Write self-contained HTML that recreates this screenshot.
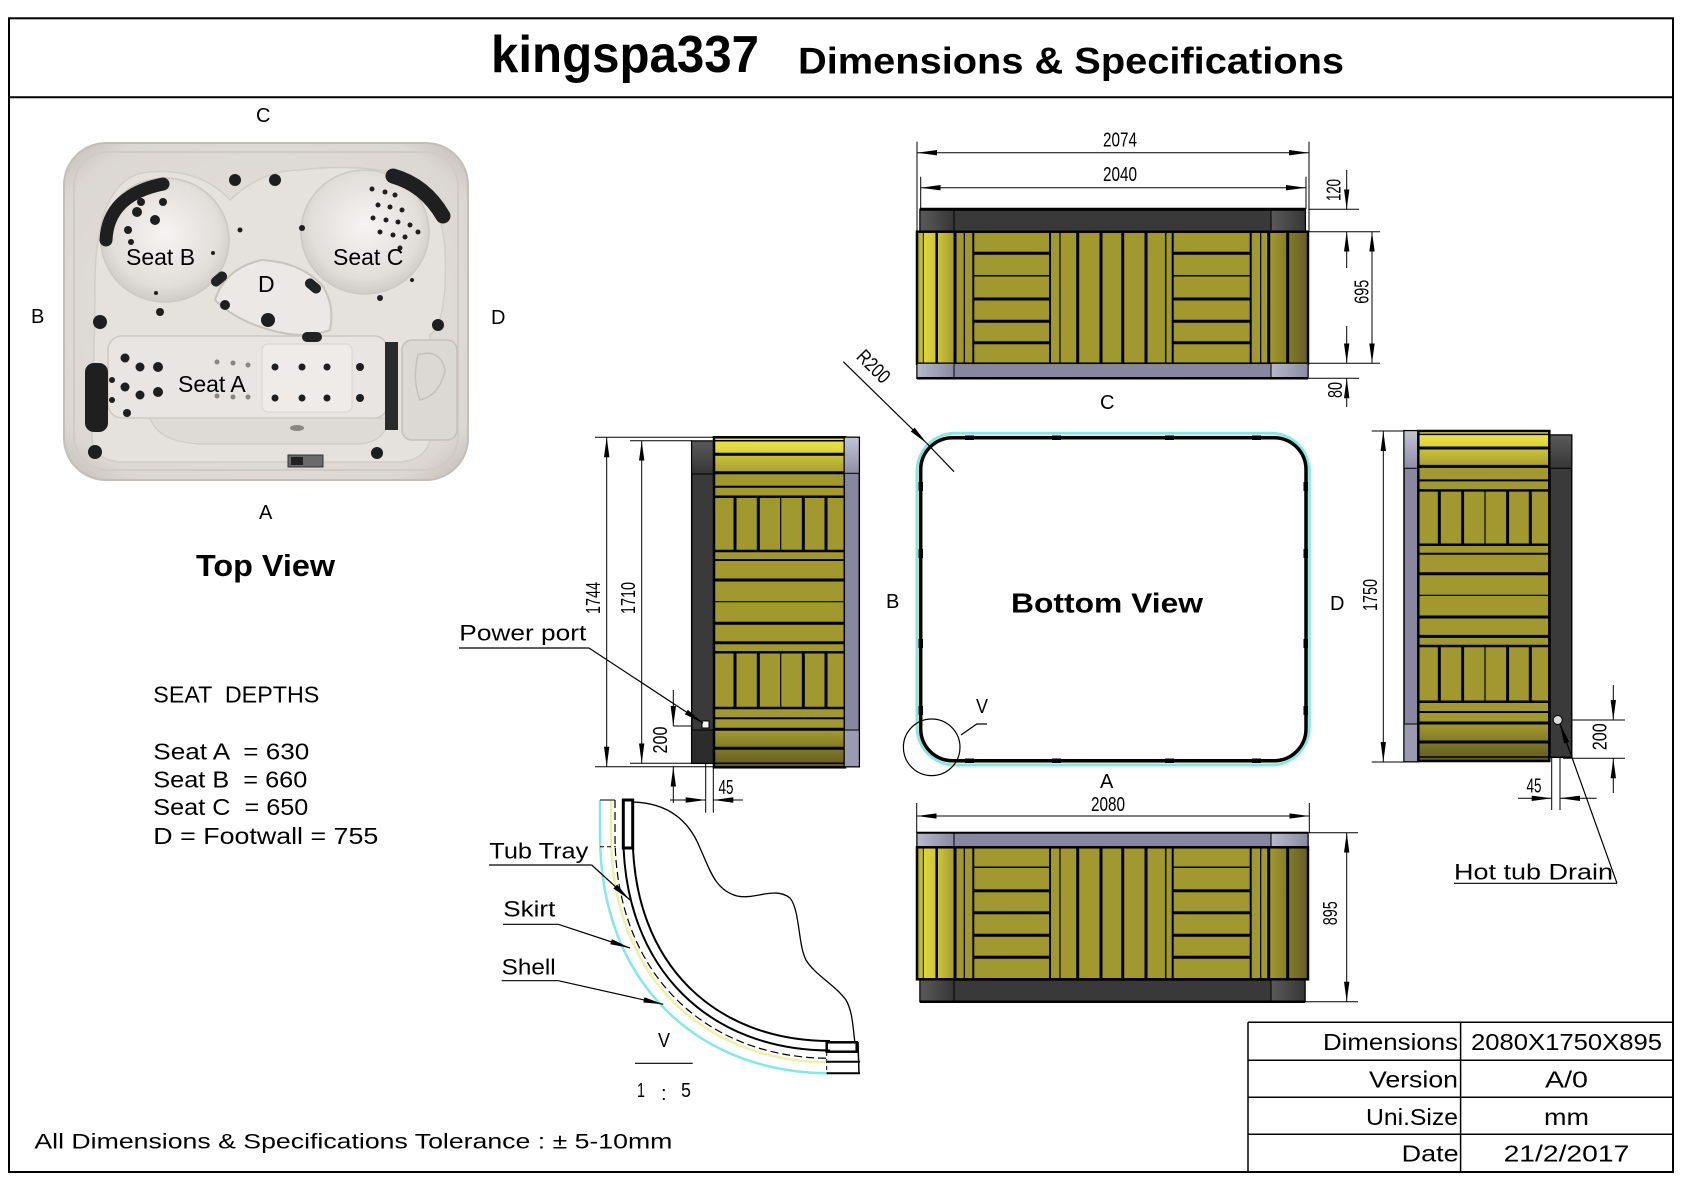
<!DOCTYPE html>
<html><head><meta charset="utf-8"><style>
html,body{margin:0;padding:0;background:#fff;}
svg{display:block;}
text{font-family:"Liberation Sans",Arial,sans-serif;fill:#000;}
.d{font-family:"Liberation Sans Narrow","Liberation Sans",sans-serif;font-size:20px;}
</style></head><body>
<svg width="1684" height="1191" viewBox="0 0 1684 1191" xmlns="http://www.w3.org/2000/svg">
<defs>
<marker id="ar" viewBox="0 0 20 6" refX="20" refY="3" markerWidth="20" markerHeight="6" markerUnits="userSpaceOnUse" orient="auto-start-reverse"><path d="M0,0.3 L20,3 L0,5.7 z" fill="#000"/></marker>
<linearGradient id="gL" x1="0" x2="1" y1="0" y2="0"><stop offset="0" stop-color="#a8a032"/><stop offset="0.2" stop-color="#dcd43e"/><stop offset="0.55" stop-color="#ccc43a"/><stop offset="1" stop-color="#a39b30"/></linearGradient>
<linearGradient id="gR" x1="0" x2="1" y1="0" y2="0"><stop offset="0" stop-color="#a39b30"/><stop offset="1" stop-color="#655e26"/></linearGradient>
<linearGradient id="gT" x1="0" y1="0" x2="0" y2="1"><stop offset="0" stop-color="#f0e844"/><stop offset="1" stop-color="#d8d03e"/></linearGradient>
<linearGradient id="gT2" x1="0" y1="0" x2="0" y2="1"><stop offset="0" stop-color="#ccc43a"/><stop offset="1" stop-color="#a8a031"/></linearGradient>
<linearGradient id="gB" x1="0" y1="0" x2="0" y2="1"><stop offset="0" stop-color="#a39b30"/><stop offset="1" stop-color="#5e5824"/></linearGradient>
<linearGradient id="gDk" x1="0" y1="0" x2="1" y2="0"><stop offset="0" stop-color="#5a5a5a"/><stop offset="1" stop-color="#363636"/></linearGradient>
<linearGradient id="gDkV" x1="0" y1="0" x2="0" y2="1"><stop offset="0" stop-color="#5a5a5a"/><stop offset="1" stop-color="#363636"/></linearGradient>
<linearGradient id="gGr" x1="0" y1="0" x2="1" y2="0"><stop offset="0" stop-color="#b8b8cc"/><stop offset="1" stop-color="#8a8aa2"/></linearGradient>
<linearGradient id="gGrV" x1="0" y1="0" x2="0" y2="1"><stop offset="0" stop-color="#c4c4d6"/><stop offset="1" stop-color="#8e8ea6"/></linearGradient>
<radialGradient id="bowl" cx="0.5" cy="0.45" r="0.6"><stop offset="0" stop-color="#f6f4f2"/><stop offset="0.7" stop-color="#e2deda"/><stop offset="1" stop-color="#c9c4bf"/></radialGradient>
<radialGradient id="shell" cx="0.5" cy="0.5" r="0.7"><stop offset="0" stop-color="#e6e2de"/><stop offset="0.85" stop-color="#dcd7d3"/><stop offset="1" stop-color="#c2bcb7"/></radialGradient>

<g id="bh">
<rect width="391" height="132" fill="#a1992f"/>
<rect width="38" height="132" fill="url(#gL)"/>
<rect x="351" width="40" height="132" fill="url(#gR)"/>
<g stroke="#000">
<line x1="6.3" y1="0" x2="6.3" y2="132" stroke-width="1"/>
<line x1="19.7" y1="0" x2="19.7" y2="132" stroke-width="2.5"/>
<line x1="38" y1="0" x2="38" y2="132" stroke-width="3"/>
<line x1="47.3" y1="0" x2="47.3" y2="132" stroke-width="1.2"/>
<line x1="56.3" y1="0" x2="56.3" y2="132" stroke-width="2"/>
<line x1="133" y1="0" x2="133" y2="132" stroke-width="2"/>
<line x1="143" y1="0" x2="143" y2="132" stroke-width="1.2"/>
<line x1="160.7" y1="0" x2="160.7" y2="132" stroke-width="3"/>
<line x1="184" y1="0" x2="184" y2="132" stroke-width="3"/>
<line x1="205.7" y1="0" x2="205.7" y2="132" stroke-width="3"/>
<line x1="229" y1="0" x2="229" y2="132" stroke-width="3"/>
<line x1="248.7" y1="0" x2="248.7" y2="132" stroke-width="1.5"/>
<line x1="255.7" y1="0" x2="255.7" y2="132" stroke-width="2"/>
<line x1="333.7" y1="0" x2="333.7" y2="132" stroke-width="2"/>
<line x1="343.7" y1="0" x2="343.7" y2="132" stroke-width="1.2"/>
<line x1="351.7" y1="0" x2="351.7" y2="132" stroke-width="3"/>
<line x1="370.7" y1="0" x2="370.7" y2="132" stroke-width="3"/>
</g>
<rect width="391" height="132" fill="none" stroke="#000" stroke-width="2.5"/>
</g>

<g id="bv">
<rect width="131" height="330" fill="#a1992f"/>
<rect width="131" height="17" fill="url(#gT)"/>
<rect y="17" width="131" height="18" fill="url(#gT2)"/>
<rect y="292" width="131" height="38" fill="url(#gB)"/>
<g stroke="#000">
<line x1="0" y1="3.4" x2="131" y2="3.4" stroke-width="1.5"/>
<line x1="0" y1="17" x2="131" y2="17" stroke-width="3"/>
<line x1="0" y1="35.4" x2="131" y2="35.4" stroke-width="3"/>
<line x1="0" y1="49.4" x2="131" y2="49.4" stroke-width="2"/>
<line x1="0" y1="59.4" x2="131" y2="59.4" stroke-width="2.5"/>
<line x1="0" y1="113.7" x2="131" y2="113.7" stroke-width="2.5"/>
<line x1="0" y1="122.7" x2="131" y2="122.7" stroke-width="2"/>
<line x1="0" y1="142.7" x2="131" y2="142.7" stroke-width="3"/>
<line x1="0" y1="164.4" x2="131" y2="164.4" stroke-width="1.2"/>
<line x1="0" y1="186" x2="131" y2="186" stroke-width="3"/>
<line x1="0" y1="205.4" x2="131" y2="205.4" stroke-width="3"/>
<line x1="0" y1="215" x2="131" y2="215" stroke-width="2.5"/>
<line x1="0" y1="270.7" x2="131" y2="270.7" stroke-width="2.5"/>
<line x1="0" y1="281" x2="131" y2="281" stroke-width="2"/>
<line x1="0" y1="292" x2="131" y2="292" stroke-width="3"/>
<line x1="0" y1="311" x2="131" y2="311" stroke-width="3"/>
<line x1="0" y1="326" x2="131" y2="326" stroke-width="1.5"/>
<g stroke-width="3">
<line x1="21" y1="59.4" x2="21" y2="113.7"/><line x1="44.3" y1="59.4" x2="44.3" y2="113.7"/><line x1="66.7" y1="59.4" x2="66.7" y2="113.7" stroke-width="1.2"/><line x1="89.3" y1="59.4" x2="89.3" y2="113.7"/><line x1="112" y1="59.4" x2="112" y2="113.7"/>
<line x1="21" y1="215" x2="21" y2="270.7"/><line x1="44.3" y1="215" x2="44.3" y2="270.7"/><line x1="66.7" y1="215" x2="66.7" y2="270.7" stroke-width="1.2"/><line x1="89.3" y1="215" x2="89.3" y2="270.7"/><line x1="112" y1="215" x2="112" y2="270.7"/>
</g>
</g>
<rect width="131" height="330" fill="none" stroke="#000" stroke-width="2.5"/>
</g>
</defs>

<!-- frame -->
<rect x="9" y="18.3" width="1664" height="1153.7" fill="none" stroke="#000" stroke-width="2"/>
<line x1="9" y1="97.3" x2="1673" y2="97.3" stroke="#000" stroke-width="2"/>

<!-- title -->
<text x="491" y="72" font-size="52" font-weight="bold" textLength="268" lengthAdjust="spacingAndGlyphs">kingspa337</text>
<text x="798" y="73.3" font-size="37" font-weight="bold" textLength="546" lengthAdjust="spacingAndGlyphs">Dimensions &amp; Specifications</text>

<!-- ============ TOP VIEW PHOTO ============ -->
<text x="256" y="122" font-size="20">C</text>
<text x="31" y="323" font-size="20">B</text>
<text x="491" y="324" font-size="20">D</text>
<g>
<rect x="64" y="143" width="404" height="337" rx="42" fill="url(#shell)" stroke="#c4beb9" stroke-width="2"/>
<rect x="74" y="152" width="384" height="318" rx="34" fill="none" stroke="#d0cbc6" stroke-width="2"/>
<path d="M95,300 Q92,175 150,172 Q200,168 230,200 Q262,170 300,170 Q340,165 380,170 Q440,175 445,250 Q448,320 430,335 L430,440 Q425,460 400,462 L120,462 Q95,460 92,440 Z" fill="#e5e1dd" stroke="#d2cdc8" stroke-width="1.5"/>
<ellipse cx="165" cy="240" rx="64" ry="62" fill="url(#bowl)" stroke="#cdc8c3" stroke-width="1.5"/>
<ellipse cx="365" cy="232" rx="64" ry="62" fill="url(#bowl)" stroke="#cdc8c3" stroke-width="1.5"/>
<path d="M215,300 Q225,268 262,260 Q300,262 322,285 Q335,305 330,330 Q305,340 270,330 Q235,320 215,300 Z" fill="#ebe8e5" stroke="#c9c3be" stroke-width="2"/>
<rect x="108" y="336" width="280" height="82" rx="14" fill="#e8e5e2" stroke="#cdc8c3" stroke-width="1.5"/>
<rect x="262" y="344" width="90" height="68" rx="6" fill="#eeebe8" stroke="#d8d3cf" stroke-width="1"/>
<path d="M150,418 Q158,442 200,444 L360,444 Q386,442 388,418 Z" fill="#dedad6" stroke="#cdc8c3" stroke-width="1"/>
<rect x="402" y="340" width="55" height="100" rx="10" fill="#dcd8d4" stroke="#c6c0bb" stroke-width="1.5"/>
<path d="M418,355 Q440,348 445,370 Q440,395 420,400 Q412,380 418,355 Z" fill="none" stroke="#c6c0bb" stroke-width="1.5"/>
<!-- pillows -->
<path d="M106,240 Q108,195 163,184" fill="none" stroke="#1f1f1f" stroke-width="13" stroke-linecap="round"/>
<path d="M393,176 Q425,185 443,216" fill="none" stroke="#1f1f1f" stroke-width="15" stroke-linecap="round"/>
<rect x="85" y="363" width="23" height="69" rx="9" fill="#1f1f1f"/>
<rect x="385" y="342" width="13" height="88" fill="#2b2b2b"/>
<rect x="210" y="274" width="18" height="10" rx="5" fill="#222" transform="rotate(-40 219 279)"/>
<rect x="304" y="281" width="18" height="10" rx="5" fill="#222" transform="rotate(40 313 286)"/>
<rect x="302" y="332" width="20" height="10" rx="5" fill="#222"/>
<!-- jets -->
<g fill="#1e1e1e">
<circle cx="235" cy="180" r="6"/><circle cx="275" cy="180" r="6"/>
<circle cx="137" cy="212" r="5"/><circle cx="155" cy="220" r="5"/><circle cx="128" cy="230" r="4"/><circle cx="141" cy="202" r="4"/><circle cx="163" cy="202" r="4"/><circle cx="131" cy="242" r="3"/>
<circle cx="372" cy="189" r="2.5"/><circle cx="385" cy="192" r="2.5"/><circle cx="395" cy="195" r="2.5"/><circle cx="378" cy="205" r="2.5"/><circle cx="390" cy="207" r="2.5"/><circle cx="402" cy="210" r="2.5"/><circle cx="373" cy="218" r="2.5"/><circle cx="386" cy="220" r="2.5"/><circle cx="398" cy="222" r="2.5"/><circle cx="410" cy="225" r="2.5"/><circle cx="380" cy="232" r="2.5"/><circle cx="393" cy="235" r="2.5"/><circle cx="405" cy="237" r="2.5"/><circle cx="418" cy="232" r="2.5"/><circle cx="400" cy="248" r="2.5"/><circle cx="302" cy="228" r="3"/><circle cx="380" cy="298" r="3"/><circle cx="412" cy="280" r="2"/>
<circle cx="240" cy="230" r="2.5"/><circle cx="213" cy="253" r="2"/><circle cx="160" cy="312" r="4"/><circle cx="156" cy="293" r="2"/>
<circle cx="100" cy="322" r="7"/><circle cx="438" cy="325" r="6"/><circle cx="95" cy="452" r="7"/><circle cx="377" cy="453" r="6"/>
<circle cx="225" cy="305" r="5"/><circle cx="268" cy="320" r="7"/>
<circle cx="125" cy="358" r="4.5"/><circle cx="140" cy="367" r="4.5"/><circle cx="158" cy="367" r="5"/><circle cx="125" cy="387" r="4.5"/><circle cx="140" cy="395" r="4.5"/><circle cx="158" cy="392" r="5"/><circle cx="112" cy="380" r="3"/><circle cx="112" cy="400" r="3"/><circle cx="127" cy="413" r="4"/>
<circle cx="275" cy="367" r="3.5"/><circle cx="302" cy="367" r="3.5"/><circle cx="327" cy="367" r="3.5"/><circle cx="360" cy="367" r="4"/>
<circle cx="275" cy="398" r="3.5"/><circle cx="302" cy="398" r="3.5"/><circle cx="327" cy="398" r="3.5"/><circle cx="360" cy="398" r="4"/>
</g>
<g fill="#8a8580"><circle cx="217" cy="362" r="2.5"/><circle cx="233" cy="363" r="2.5"/><circle cx="248" cy="365" r="2.5"/><circle cx="217" cy="396" r="2.5"/><circle cx="233" cy="397" r="2.5"/><circle cx="248" cy="397" r="2.5"/><ellipse cx="297" cy="428" rx="7" ry="3"/></g>
<rect x="288" y="455" width="35" height="12" fill="#6a6a6a" stroke="#333" stroke-width="1"/>
<rect x="291" y="457" width="12" height="8" fill="#222"/>
</g>
<text x="126" y="265" font-size="23">Seat B</text>
<text x="333" y="265" font-size="23">Seat C</text>
<text x="258" y="292" font-size="23">D</text>
<text x="178" y="392" font-size="23">Seat A</text>
<text x="259" y="519" font-size="20">A</text>
<text x="196" y="576" font-size="31" font-weight="bold" textLength="139" lengthAdjust="spacingAndGlyphs">Top View</text>

<!-- seat depths -->
<text x="153.3" y="702.3" font-size="23" textLength="166" lengthAdjust="spacingAndGlyphs" xml:space="preserve">SEAT  DEPTHS</text>
<text x="153.3" y="759.3" font-size="23" textLength="156" lengthAdjust="spacingAndGlyphs" xml:space="preserve">Seat A  = 630</text>
<text x="153.3" y="787.3" font-size="23" textLength="154" lengthAdjust="spacingAndGlyphs" xml:space="preserve">Seat B  = 660</text>
<text x="153.3" y="815" font-size="23" textLength="155" lengthAdjust="spacingAndGlyphs" xml:space="preserve">Seat C  = 650</text>
<text x="153.3" y="844" font-size="23" textLength="225" lengthAdjust="spacingAndGlyphs">D = Footwall = 755</text>

<!-- ============ ELEVATION C (top) ============ -->
<g stroke="#000" stroke-width="1">
<line x1="917" y1="141.7" x2="917" y2="232"/>
<line x1="1309" y1="141.7" x2="1309" y2="232"/>
<line x1="920.7" y1="176.7" x2="920.7" y2="209"/>
<line x1="1306" y1="176.7" x2="1306" y2="209"/>
<line x1="917" y1="152.7" x2="1309" y2="152.7" marker-start="url(#ar)" marker-end="url(#ar)"/>
<line x1="920.7" y1="187.7" x2="1306" y2="187.7" marker-start="url(#ar)" marker-end="url(#ar)"/>
<line x1="1309" y1="209.3" x2="1359" y2="209.3"/>
<line x1="1309" y1="231.7" x2="1380" y2="231.7"/>
<line x1="1309" y1="363.3" x2="1380" y2="363.3"/>
<line x1="1309" y1="378.3" x2="1359" y2="378.3"/>
<line x1="1346.7" y1="170" x2="1346.7" y2="209.3" marker-end="url(#ar)"/>
<line x1="1346.7" y1="268" x2="1346.7" y2="231.7" marker-end="url(#ar)"/>
<line x1="1372" y1="231.7" x2="1372" y2="363.3" marker-start="url(#ar)" marker-end="url(#ar)"/>
<line x1="1346.7" y1="326" x2="1346.7" y2="363.3" marker-end="url(#ar)"/>
<line x1="1346.7" y1="407" x2="1346.7" y2="378.3" marker-end="url(#ar)"/>
</g>
<text class="d" x="1103" y="146.5" textLength="34" lengthAdjust="spacingAndGlyphs">2074</text>
<text class="d" x="1103" y="181" textLength="34" lengthAdjust="spacingAndGlyphs">2040</text>
<text class="d" transform="translate(1333.3,190) rotate(-90)" x="-11" y="7" textLength="22" lengthAdjust="spacingAndGlyphs">120</text>
<text class="d" transform="translate(1361.7,291.7) rotate(-90)" x="-12" y="7" textLength="24" lengthAdjust="spacingAndGlyphs">695</text>
<text class="d" transform="translate(1335,390) rotate(-90)" x="-8" y="7" textLength="16" lengthAdjust="spacingAndGlyphs">80</text>

<rect x="920" y="209.3" width="385.3" height="22.4" fill="#393939" stroke="#000" stroke-width="1.5"/>
<rect x="920" y="209.3" width="34" height="22.4" fill="url(#gDk)" stroke="#000" stroke-width="1"/>
<rect x="1271" y="209.3" width="34.3" height="22.4" fill="url(#gDk)" stroke="#000" stroke-width="1"/>
<line x1="920" y1="209.3" x2="1305.3" y2="209.3" stroke="#000" stroke-width="3"/>
<use href="#bh" x="917" y="231.7"/>
<g stroke="#000">
<line x1="973.3" y1="253.3" x2="1050" y2="253.3" stroke-width="3"/><line x1="1172.7" y1="253.3" x2="1250.7" y2="253.3" stroke-width="3"/>
<line x1="973.3" y1="275.7" x2="1050" y2="275.7" stroke-width="1.5"/><line x1="1172.7" y1="275.7" x2="1250.7" y2="275.7" stroke-width="1.5"/>
<line x1="973.3" y1="299" x2="1050" y2="299" stroke-width="3"/><line x1="1172.7" y1="299" x2="1250.7" y2="299" stroke-width="3"/>
<line x1="973.3" y1="321.3" x2="1050" y2="321.3" stroke-width="3"/><line x1="1172.7" y1="321.3" x2="1250.7" y2="321.3" stroke-width="3"/>
<line x1="973.3" y1="342.7" x2="1050" y2="342.7" stroke-width="3"/><line x1="1172.7" y1="342.7" x2="1250.7" y2="342.7" stroke-width="3"/>
</g>
<rect x="917" y="363.3" width="391" height="15" fill="#8787a0" stroke="#000" stroke-width="1.5"/>
<rect x="917" y="363.3" width="37" height="15" fill="url(#gGr)" stroke="#000" stroke-width="1"/>
<rect x="1271" y="363.3" width="37" height="15" fill="url(#gGr)" stroke="#000" stroke-width="1"/>
<line x1="917" y1="378.3" x2="1308" y2="378.3" stroke="#000" stroke-width="2.5"/>
<text x="1100" y="409" font-size="20">C</text>

<!-- ============ SIDE B (left) ============ -->
<g stroke="#000" stroke-width="1">
<line x1="595" y1="437.3" x2="714" y2="437.3"/>
<line x1="630" y1="440.7" x2="692" y2="440.7"/>
<line x1="595" y1="766.7" x2="714" y2="766.7"/>
<line x1="630" y1="763.3" x2="692" y2="763.3"/>
<line x1="606.7" y1="437.3" x2="606.7" y2="766.7" marker-start="url(#ar)" marker-end="url(#ar)"/>
<line x1="641.7" y1="440.7" x2="641.7" y2="763.3" marker-start="url(#ar)" marker-end="url(#ar)"/>
<line x1="673.3" y1="726" x2="705" y2="726"/>
<line x1="673.3" y1="690" x2="673.3" y2="726" marker-end="url(#ar)"/>
<line x1="673.3" y1="803" x2="673.3" y2="766.7" marker-end="url(#ar)"/>
<line x1="705.7" y1="726" x2="705.7" y2="812.7"/>
<line x1="713.3" y1="766.7" x2="713.3" y2="812.7"/>
<line x1="670" y1="800" x2="705.7" y2="800" marker-end="url(#ar)"/>
<line x1="743" y1="800" x2="713.3" y2="800" marker-end="url(#ar)"/>
</g>
<text class="d" transform="translate(593,598) rotate(-90)" x="-16" y="7" textLength="32" lengthAdjust="spacingAndGlyphs">1744</text>
<text class="d" transform="translate(628,598) rotate(-90)" x="-16" y="7" textLength="32" lengthAdjust="spacingAndGlyphs">1710</text>
<text class="d" transform="translate(660,740) rotate(-90)" x="-13.5" y="7" textLength="27" lengthAdjust="spacingAndGlyphs">200</text>
<text class="d" x="718.5" y="794" textLength="15" lengthAdjust="spacingAndGlyphs">45</text>

<rect x="691.7" y="441" width="22.3" height="322.3" fill="#3a3a3a" stroke="#000" stroke-width="1.5"/>
<rect x="691.7" y="441" width="22.3" height="33" fill="url(#gDkV)" stroke="#000" stroke-width="1"/>
<rect x="691.7" y="730" width="22.3" height="33.3" fill="#2c2c2c" stroke="#000" stroke-width="1"/>
<use href="#bv" x="714" y="437.3"/>
<rect x="844.3" y="437.3" width="15" height="329.4" fill="#8787a0" stroke="#000" stroke-width="1.5"/>
<rect x="844.3" y="437.3" width="15" height="36" fill="url(#gGrV)" stroke="#000" stroke-width="1"/>
<rect x="844.3" y="730" width="15" height="36.7" fill="#9a9ab0" stroke="#000" stroke-width="1"/>
<rect x="702" y="721" width="7" height="7" fill="#fff" stroke="#000" stroke-width="1"/>
<text x="459.3" y="640.7" font-size="22" textLength="127" lengthAdjust="spacingAndGlyphs">Power port</text>
<line x1="459" y1="648" x2="589" y2="648" stroke="#000" stroke-width="1.2"/>
<line x1="589" y1="648" x2="703" y2="723" stroke="#000" stroke-width="1.2" marker-end="url(#ar)"/>

<!-- ============ BOTTOM VIEW ============ -->
<rect x="917" y="433.3" width="392.3" height="331.7" rx="38" fill="none" stroke="#86e6ea" stroke-width="3"/>
<rect x="919" y="435.5" width="388.5" height="327.5" rx="36" fill="none" stroke="#eef0b4" stroke-width="1.5"/>
<rect x="920.7" y="437.7" width="385.3" height="323" rx="32" fill="#fff" stroke="#000" stroke-width="3.5"/>
<g fill="#000">
<rect x="965" y="435.5" width="9" height="4.5"/><rect x="1052" y="435.5" width="9" height="4.5"/><rect x="1165" y="435.5" width="9" height="4.5"/><rect x="1252" y="435.5" width="9" height="4.5"/>
<rect x="965" y="758.5" width="9" height="4.5"/><rect x="1052" y="758.5" width="9" height="4.5"/><rect x="1165" y="758.5" width="9" height="4.5"/><rect x="1252" y="758.5" width="9" height="4.5"/>
<rect x="918.5" y="482" width="4.5" height="9"/><rect x="918.5" y="549" width="4.5" height="9"/><rect x="918.5" y="639" width="4.5" height="9"/><rect x="918.5" y="706" width="4.5" height="9"/>
<rect x="1303.5" y="482" width="4.5" height="9"/><rect x="1303.5" y="549" width="4.5" height="9"/><rect x="1303.5" y="639" width="4.5" height="9"/><rect x="1303.5" y="706" width="4.5" height="9"/>
</g>
<text x="1011" y="612.7" font-size="28" font-weight="bold" textLength="192" lengthAdjust="spacingAndGlyphs">Bottom View</text>
<text x="886" y="608" font-size="20">B</text>
<text x="1330" y="610" font-size="20">D</text>
<line x1="843.3" y1="361.7" x2="927" y2="443.5" stroke="#000" stroke-width="1.2" marker-end="url(#ar)"/>
<line x1="927" y1="443.5" x2="954" y2="471.7" stroke="#000" stroke-width="1.2"/>
<text class="d" transform="translate(873,367) rotate(45)" x="-19" y="6" textLength="38" lengthAdjust="spacingAndGlyphs">R200</text>
<circle cx="931.7" cy="747.3" r="28.3" fill="none" stroke="#000" stroke-width="1.2"/>
<polyline points="961,735 976.7,724 987,724" fill="none" stroke="#000" stroke-width="1.2"/>
<text class="d" x="976" y="713" textLength="12" lengthAdjust="spacingAndGlyphs">V</text>
<text x="1100" y="788" font-size="20">A</text>

<!-- ============ SIDE D (right) ============ -->
<g stroke="#000" stroke-width="1">
<line x1="1371.7" y1="431" x2="1404" y2="431"/>
<line x1="1371.7" y1="762" x2="1404" y2="762"/>
<line x1="1383.3" y1="431" x2="1383.3" y2="762" marker-start="url(#ar)" marker-end="url(#ar)"/>
<line x1="1562" y1="720" x2="1625" y2="720"/>
<line x1="1563" y1="758.3" x2="1625" y2="758.3"/>
<line x1="1613.3" y1="685" x2="1613.3" y2="720" marker-end="url(#ar)"/>
<line x1="1613.3" y1="793" x2="1613.3" y2="758.3" marker-end="url(#ar)"/>
<line x1="1551.7" y1="758" x2="1551.7" y2="810"/>
<line x1="1560" y1="724" x2="1560" y2="810"/>
<line x1="1518" y1="798.3" x2="1551.7" y2="798.3" marker-end="url(#ar)"/>
<line x1="1596.7" y1="798.3" x2="1560" y2="798.3" marker-end="url(#ar)"/>
</g>
<text class="d" transform="translate(1370,595) rotate(-90)" x="-16" y="7" textLength="32" lengthAdjust="spacingAndGlyphs">1750</text>
<text class="d" transform="translate(1599.3,736.7) rotate(-90)" x="-13.5" y="7" textLength="27" lengthAdjust="spacingAndGlyphs">200</text>
<text class="d" x="1526.5" y="792.5" textLength="15" lengthAdjust="spacingAndGlyphs">45</text>

<rect x="1404" y="430.7" width="14.3" height="331" fill="#8787a0" stroke="#000" stroke-width="1.5"/>
<rect x="1404" y="430.7" width="14.3" height="37.6" fill="url(#gGrV)" stroke="#000" stroke-width="1"/>
<rect x="1404" y="724" width="14.3" height="37.7" fill="#9a9ab0" stroke="#000" stroke-width="1"/>
<use href="#bv" x="1418.3" y="431"/>
<rect x="1550" y="435" width="21.7" height="322.3" fill="#3a3a3a" stroke="#000" stroke-width="1.5"/>
<rect x="1550" y="435" width="21.7" height="33.3" fill="url(#gDkV)" stroke="#000" stroke-width="1"/>
<circle cx="1557.7" cy="720" r="4.5" fill="#ddd" stroke="#000" stroke-width="1"/>
<text x="1454" y="879.3" font-size="22" textLength="159" lengthAdjust="spacingAndGlyphs">Hot tub Drain</text>
<line x1="1454" y1="883.3" x2="1617" y2="883.3" stroke="#000" stroke-width="1.2"/>
<line x1="1617" y1="883.3" x2="1560" y2="724" stroke="#000" stroke-width="1.2" marker-end="url(#ar)"/>

<!-- ============ ELEVATION A (bottom) ============ -->
<g stroke="#000" stroke-width="1">
<line x1="916.7" y1="803" x2="916.7" y2="833"/>
<line x1="1309.3" y1="803" x2="1309.3" y2="833"/>
<line x1="916.7" y1="816" x2="1309.3" y2="816" marker-start="url(#ar)" marker-end="url(#ar)"/>
<line x1="1309" y1="832.7" x2="1358" y2="832.7"/>
<line x1="1305" y1="1001.7" x2="1358" y2="1001.7"/>
<line x1="1346.7" y1="832.7" x2="1346.7" y2="1001.7" marker-start="url(#ar)" marker-end="url(#ar)"/>
</g>
<text class="d" x="1091" y="811" textLength="34" lengthAdjust="spacingAndGlyphs">2080</text>
<text class="d" transform="translate(1330,913.3) rotate(-90)" x="-12" y="7" textLength="24" lengthAdjust="spacingAndGlyphs">895</text>

<rect x="917" y="832.7" width="391" height="14.6" fill="#8787a0" stroke="#000" stroke-width="1.5"/>
<rect x="917" y="832.7" width="37" height="14.6" fill="url(#gGr)" stroke="#000" stroke-width="1"/>
<rect x="1271" y="832.7" width="37" height="14.6" fill="url(#gGr)" stroke="#000" stroke-width="1"/>
<line x1="917" y1="832.7" x2="1308" y2="832.7" stroke="#000" stroke-width="2"/>
<use href="#bh" x="917" y="847.3"/>
<g stroke="#000">
<line x1="973.3" y1="867.3" x2="1050" y2="867.3" stroke-width="1.5"/><line x1="1172.7" y1="867.3" x2="1250.7" y2="867.3" stroke-width="1.5"/>
<line x1="973.3" y1="890.7" x2="1050" y2="890.7" stroke-width="3"/><line x1="1172.7" y1="890.7" x2="1250.7" y2="890.7" stroke-width="3"/>
<line x1="973.3" y1="912.7" x2="1050" y2="912.7" stroke-width="3"/><line x1="1172.7" y1="912.7" x2="1250.7" y2="912.7" stroke-width="3"/>
<line x1="973.3" y1="935.3" x2="1050" y2="935.3" stroke-width="3"/><line x1="1172.7" y1="935.3" x2="1250.7" y2="935.3" stroke-width="3"/>
<line x1="973.3" y1="957.3" x2="1050" y2="957.3" stroke-width="3"/><line x1="1172.7" y1="957.3" x2="1250.7" y2="957.3" stroke-width="3"/>
</g>
<rect x="920" y="980" width="385" height="21.7" fill="#393939" stroke="#000" stroke-width="1.5"/>
<rect x="920" y="980" width="34" height="21.7" fill="url(#gDk)" stroke="#000" stroke-width="1"/>
<rect x="1271" y="980" width="34" height="21.7" fill="url(#gDk)" stroke="#000" stroke-width="1"/>
<line x1="920" y1="1001.7" x2="1305" y2="1001.7" stroke="#000" stroke-width="2.5"/>

<!-- ============ DETAIL V ============ -->
<path d="M600,800 L600,835 C600,985 700,1073.3 830,1073.3" fill="none" stroke="#86e6ea" stroke-width="2.5"/>
<path d="M611,800 L611,835 C611,978 705.5,1062.3 830,1062.3" fill="none" stroke="#eef0a8" stroke-width="2.5"/>
<path d="M615,800 L615,835 C615,976 707.5,1058.3 830,1058.3" fill="none" stroke="#000" stroke-width="1.2" stroke-dasharray="8,4"/>
<path d="M623.3,800 L623.3,835 C623.3,971 711.6,1050.5 830,1050.5" fill="none" stroke="#000" stroke-width="2"/>
<path d="M632.7,800 L632.7,835 C632.7,965.5 716.3,1041 830,1041" fill="none" stroke="#000" stroke-width="2"/>
<rect x="623.3" y="800" width="9.4" height="48" fill="none" stroke="#000" stroke-width="3"/>
<line x1="600" y1="800" x2="615" y2="800" stroke="#000" stroke-width="1"/>
<line x1="600" y1="846.7" x2="616" y2="846.7" stroke="#000" stroke-width="1" stroke-dasharray="4,3"/>
<rect x="826.7" y="1042.3" width="30" height="9.4" fill="none" stroke="#000" stroke-width="2.5"/>
<line x1="826.7" y1="1061.7" x2="860" y2="1061.7" stroke="#000" stroke-width="2"/>
<line x1="826.7" y1="1073.3" x2="860" y2="1073.3" stroke="#000" stroke-width="2"/>
<line x1="858" y1="1042" x2="859" y2="1073.3" stroke="#000" stroke-width="1.5"/>
<line x1="826.7" y1="1052" x2="826.7" y2="1073.3" stroke="#000" stroke-width="1" stroke-dasharray="4,3"/>
<path d="M633,802 C665,803 688,818 700,848 C710,870 715,890 737,896 C755,900 775,886 790,898 C800,910 798,945 806,960 C815,975 835,985 846,1000 C853,1012 853,1030 855,1043" fill="none" stroke="#000" stroke-width="1.3"/>
<text x="489.3" y="858.3" font-size="22" textLength="99" lengthAdjust="spacingAndGlyphs">Tub Tray</text>
<line x1="489" y1="865" x2="591.7" y2="865" stroke="#000" stroke-width="1.2"/>
<line x1="591.7" y1="865" x2="630" y2="900" stroke="#000" stroke-width="1.2" marker-end="url(#ar)"/>
<text x="503.3" y="916.7" font-size="22" textLength="52" lengthAdjust="spacingAndGlyphs">Skirt</text>
<line x1="503" y1="924.3" x2="558.3" y2="924.3" stroke="#000" stroke-width="1.2"/>
<line x1="558.3" y1="924.3" x2="630" y2="948" stroke="#000" stroke-width="1.2" marker-end="url(#ar)"/>
<text x="501.7" y="974.3" font-size="22" textLength="54" lengthAdjust="spacingAndGlyphs">Shell</text>
<line x1="501.7" y1="980.7" x2="558.3" y2="980.7" stroke="#000" stroke-width="1.2"/>
<line x1="558.3" y1="980.7" x2="663.3" y2="1004.3" stroke="#000" stroke-width="1.2" marker-end="url(#ar)"/>
<text class="d" x="658" y="1047" textLength="12" lengthAdjust="spacingAndGlyphs">V</text>
<line x1="635" y1="1063.3" x2="692.7" y2="1063.3" stroke="#000" stroke-width="1.2"/>
<text class="d" x="637" y="1097" textLength="8" lengthAdjust="spacingAndGlyphs">1</text>
<text class="d" x="661" y="1100" font-size="16">:</text>
<text class="d" x="681" y="1097" textLength="10" lengthAdjust="spacingAndGlyphs">5</text>

<!-- footer -->
<text x="34.4" y="1148.3" font-size="21" textLength="638" lengthAdjust="spacingAndGlyphs">All Dimensions &amp; Specifications Tolerance : ± 5-10mm</text>

<!-- table -->
<g stroke="#000" stroke-width="1.5" fill="none">
<line x1="1248" y1="1022.3" x2="1673" y2="1022.3"/>
<line x1="1248" y1="1060.3" x2="1673" y2="1060.3"/>
<line x1="1248" y1="1097.3" x2="1673" y2="1097.3"/>
<line x1="1248" y1="1134.3" x2="1673" y2="1134.3"/>
<line x1="1248" y1="1022.3" x2="1248" y2="1172"/>
<line x1="1460.6" y1="1022.3" x2="1460.6" y2="1172"/>
</g>
<text x="1323" y="1050" font-size="23" textLength="135" lengthAdjust="spacingAndGlyphs">Dimensions</text>
<text x="1369" y="1087.7" font-size="23" textLength="89" lengthAdjust="spacingAndGlyphs">Version</text>
<text x="1366" y="1125" font-size="23" textLength="92" lengthAdjust="spacingAndGlyphs">Uni.Size</text>
<text x="1401.6" y="1161.7" font-size="23" textLength="57" lengthAdjust="spacingAndGlyphs">Date</text>
<text x="1471" y="1050" font-size="23" textLength="191" lengthAdjust="spacingAndGlyphs">2080X1750X895</text>
<text x="1545" y="1087.7" font-size="23" textLength="43" lengthAdjust="spacingAndGlyphs">A/0</text>
<text x="1544" y="1125" font-size="23" textLength="45" lengthAdjust="spacingAndGlyphs">mm</text>
<text x="1503.6" y="1161.7" font-size="23" textLength="125.7" lengthAdjust="spacingAndGlyphs">21/2/2017</text>
</svg>
</body></html>
